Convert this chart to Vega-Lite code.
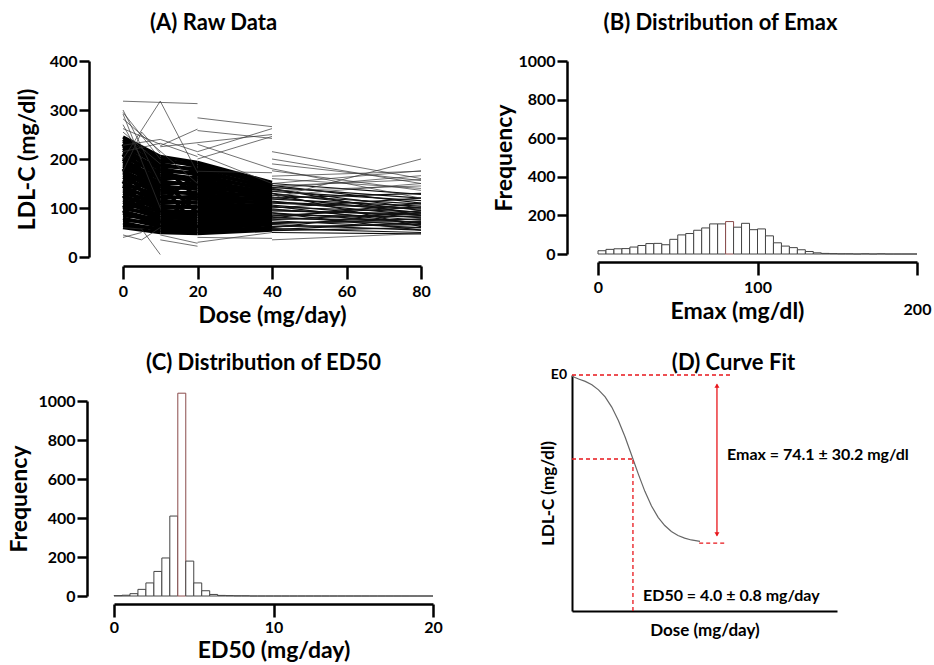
{
  "$schema": "https://vega.github.io/schema/vega-lite/v6.json",
  "background": "white",
  "padding": {"left": 8, "top": 12, "right": 2, "bottom": 2},
  "columns": 2,
  "align": "each",
  "bounds": "flush",
  "spacing": {"row": 118, "column": 139},
  "datasets": {
    "a_dense": [
      {"x":0,"x2":10,"y":245,"y2":205},{"x":0,"x2":10,"y":240,"y2":192},{"x":0,"x2":10,"y":236,"y2":200},{"x":0,"x2":10,"y":231,"y2":185},{"x":0,"x2":10,"y":226,"y2":190},{"x":0,"x2":10,"y":222,"y2":178},{"x":0,"x2":10,"y":218,"y2":170},{"x":0,"x2":10,"y":213,"y2":182},{"x":0,"x2":10,"y":208,"y2":165},{"x":0,"x2":10,"y":204,"y2":172},{"x":0,"x2":10,"y":199,"y2":158},{"x":0,"x2":10,"y":195,"y2":150},{"x":0,"x2":10,"y":190,"y2":162},{"x":0,"x2":10,"y":186,"y2":146},{"x":0,"x2":10,"y":181,"y2":153},{"x":0,"x2":10,"y":176,"y2":140},{"x":0,"x2":10,"y":172,"y2":132},{"x":0,"x2":10,"y":167,"y2":145},{"x":0,"x2":10,"y":163,"y2":128},{"x":0,"x2":10,"y":158,"y2":135},{"x":0,"x2":10,"y":153,"y2":120},{"x":0,"x2":10,"y":149,"y2":126},{"x":0,"x2":10,"y":144,"y2":112},{"x":0,"x2":10,"y":139,"y2":118},{"x":0,"x2":10,"y":135,"y2":105},{"x":0,"x2":10,"y":130,"y2":110},{"x":0,"x2":10,"y":125,"y2":98},{"x":0,"x2":10,"y":121,"y2":104},{"x":0,"x2":10,"y":116,"y2":92},{"x":0,"x2":10,"y":112,"y2":85},{"x":0,"x2":10,"y":107,"y2":95},{"x":0,"x2":10,"y":102,"y2":80},{"x":0,"x2":10,"y":98,"y2":88},{"x":0,"x2":10,"y":93,"y2":74},{"x":0,"x2":10,"y":89,"y2":68},{"x":0,"x2":10,"y":84,"y2":78},{"x":0,"x2":10,"y":79,"y2":62},{"x":0,"x2":10,"y":75,"y2":70},{"x":0,"x2":10,"y":70,"y2":55},{"x":0,"x2":10,"y":65,"y2":58},{"x":0,"x2":10,"y":60,"y2":50},{"x":0,"x2":10,"y":230,"y2":120},{"x":0,"x2":10,"y":120,"y2":180},{"x":0,"x2":10,"y":180,"y2":90},{"x":0,"x2":10,"y":100,"y2":150},{"x":0,"x2":10,"y":210,"y2":110},{"x":0,"x2":10,"y":90,"y2":140},{"x":0,"x2":10,"y":155,"y2":60},{"x":0,"x2":10,"y":200,"y2":135},{"x":0,"x2":10,"y":140,"y2":200},
      {"x":10,"x2":20,"y":205,"y2":193},{"x":10,"x2":20,"y":200,"y2":185},{"x":10,"x2":20,"y":195,"y2":190},{"x":10,"x2":20,"y":190,"y2":176},{"x":10,"x2":20,"y":185,"y2":180},{"x":10,"x2":20,"y":180,"y2":168},{"x":10,"x2":20,"y":175,"y2":172},{"x":10,"x2":20,"y":170,"y2":160},{"x":10,"x2":20,"y":165,"y2":155},{"x":10,"x2":20,"y":160,"y2":162},{"x":10,"x2":20,"y":155,"y2":146},{"x":10,"x2":20,"y":150,"y2":150},{"x":10,"x2":20,"y":145,"y2":138},{"x":10,"x2":20,"y":140,"y2":142},{"x":10,"x2":20,"y":135,"y2":128},{"x":10,"x2":20,"y":130,"y2":132},{"x":10,"x2":20,"y":125,"y2":118},{"x":10,"x2":20,"y":120,"y2":124},{"x":10,"x2":20,"y":115,"y2":110},{"x":10,"x2":20,"y":110,"y2":112},{"x":10,"x2":20,"y":105,"y2":100},{"x":10,"x2":20,"y":100,"y2":104},{"x":10,"x2":20,"y":95,"y2":92},{"x":10,"x2":20,"y":90,"y2":88},{"x":10,"x2":20,"y":85,"y2":84},{"x":10,"x2":20,"y":80,"y2":78},{"x":10,"x2":20,"y":75,"y2":72},{"x":10,"x2":20,"y":70,"y2":68},{"x":10,"x2":20,"y":65,"y2":62},{"x":10,"x2":20,"y":60,"y2":57},{"x":10,"x2":20,"y":55,"y2":52},{"x":10,"x2":20,"y":50,"y2":48},{"x":10,"x2":20,"y":190,"y2":120},{"x":10,"x2":20,"y":110,"y2":170},{"x":10,"x2":20,"y":160,"y2":90},{"x":10,"x2":20,"y":70,"y2":130},{"x":10,"x2":20,"y":150,"y2":60},
      {"x":20,"x2":40,"y":193,"y2":152},{"x":20,"x2":40,"y":188,"y2":145},{"x":20,"x2":40,"y":183,"y2":148},{"x":20,"x2":40,"y":178,"y2":140},{"x":20,"x2":40,"y":173,"y2":143},{"x":20,"x2":40,"y":168,"y2":135},{"x":20,"x2":40,"y":163,"y2":138},{"x":20,"x2":40,"y":158,"y2":130},{"x":20,"x2":40,"y":153,"y2":132},{"x":20,"x2":40,"y":148,"y2":125},{"x":20,"x2":40,"y":143,"y2":127},{"x":20,"x2":40,"y":138,"y2":120},{"x":20,"x2":40,"y":133,"y2":122},{"x":20,"x2":40,"y":128,"y2":115},{"x":20,"x2":40,"y":123,"y2":117},{"x":20,"x2":40,"y":118,"y2":110},{"x":20,"x2":40,"y":113,"y2":112},{"x":20,"x2":40,"y":108,"y2":105},{"x":20,"x2":40,"y":103,"y2":106},{"x":20,"x2":40,"y":98,"y2":100},{"x":20,"x2":40,"y":93,"y2":96},{"x":20,"x2":40,"y":88,"y2":92},{"x":20,"x2":40,"y":83,"y2":88},{"x":20,"x2":40,"y":78,"y2":84},{"x":20,"x2":40,"y":73,"y2":80},{"x":20,"x2":40,"y":68,"y2":75},{"x":20,"x2":40,"y":63,"y2":70},{"x":20,"x2":40,"y":58,"y2":66},{"x":20,"x2":40,"y":53,"y2":60},{"x":20,"x2":40,"y":48,"y2":55},{"x":20,"x2":40,"y":180,"y2":100},{"x":20,"x2":40,"y":100,"y2":150},{"x":20,"x2":40,"y":150,"y2":80},{"x":20,"x2":40,"y":60,"y2":110},{"x":20,"x2":40,"y":120,"y2":60},{"x":20,"x2":40,"y":170,"y2":65}
    ],
    "a_mid": [
      {"x":40,"x2":80,"y":150,"y2":128},{"x":40,"x2":80,"y":146,"y2":110},{"x":40,"x2":80,"y":142,"y2":120},{"x":40,"x2":80,"y":138,"y2":100},{"x":40,"x2":80,"y":134,"y2":115},{"x":40,"x2":80,"y":130,"y2":95},{"x":40,"x2":80,"y":126,"y2":108},{"x":40,"x2":80,"y":122,"y2":90},{"x":40,"x2":80,"y":118,"y2":104},{"x":40,"x2":80,"y":114,"y2":85},{"x":40,"x2":80,"y":110,"y2":98},{"x":40,"x2":80,"y":106,"y2":80},{"x":40,"x2":80,"y":102,"y2":92},{"x":40,"x2":80,"y":98,"y2":75},{"x":40,"x2":80,"y":94,"y2":88},{"x":40,"x2":80,"y":90,"y2":70},{"x":40,"x2":80,"y":86,"y2":82},{"x":40,"x2":80,"y":82,"y2":65},{"x":40,"x2":80,"y":78,"y2":76},{"x":40,"x2":80,"y":74,"y2":60},{"x":40,"x2":80,"y":70,"y2":72},{"x":40,"x2":80,"y":66,"y2":55},{"x":40,"x2":80,"y":62,"y2":66},{"x":40,"x2":80,"y":58,"y2":50},{"x":40,"x2":80,"y":54,"y2":60},{"x":40,"x2":80,"y":50,"y2":47},{"x":40,"x2":80,"y":120,"y2":130},{"x":40,"x2":80,"y":100,"y2":120},{"x":40,"x2":80,"y":80,"y2":110},{"x":40,"x2":80,"y":140,"y2":85},{"x":40,"x2":80,"y":60,"y2":95},{"x":40,"x2":80,"y":90,"y2":55},{"x":40,"x2":80,"y":130,"y2":62},{"x":40,"x2":80,"y":112,"y2":100},{"x":40,"x2":80,"y":96,"y2":85},{"x":40,"x2":80,"y":76,"y2":90},{"x":40,"x2":80,"y":68,"y2":78},{"x":40,"x2":80,"y":104,"y2":68},{"x":40,"x2":80,"y":84,"y2":102},{"x":40,"x2":80,"y":56,"y2":70}
    ],
    "a_thin": [
      {"x":0,"x2":20,"y":318,"y2":313},{"x":0,"x2":10,"y":300,"y2":150},{"x":0,"x2":10,"y":292,"y2":100},{"x":0,"x2":20,"y":282,"y2":150},{"x":0,"x2":10,"y":200,"y2":318},{"x":10,"x2":20,"y":318,"y2":172},{"x":0,"x2":5,"y":175,"y2":255},{"x":5,"x2":10,"y":255,"y2":212},{"x":0,"x2":10,"y":228,"y2":240},{"x":10,"x2":20,"y":227,"y2":261},{"x":20,"x2":40,"y":284,"y2":266},{"x":20,"x2":40,"y":258,"y2":242},{"x":20,"x2":40,"y":215,"y2":262},{"x":10,"x2":40,"y":225,"y2":250},{"x":20,"x2":40,"y":200,"y2":246},{"x":40,"x2":80,"y":215,"y2":160},{"x":40,"x2":80,"y":200,"y2":150},{"x":40,"x2":80,"y":176,"y2":136},{"x":40,"x2":80,"y":120,"y2":200},{"x":40,"x2":80,"y":150,"y2":176},{"x":40,"x2":80,"y":140,"y2":166},{"x":40,"x2":80,"y":190,"y2":156},{"x":0,"x2":5,"y":40,"y2":50},{"x":0,"x2":5,"y":60,"y2":57},{"x":5,"x2":10,"y":57,"y2":5},{"x":10,"x2":20,"y":35,"y2":22},{"x":20,"x2":40,"y":30,"y2":50},{"x":40,"x2":80,"y":35,"y2":48},{"x":0,"x2":10,"y":295,"y2":200},{"x":0,"x2":5,"y":270,"y2":200},{"x":0,"x2":10,"y":255,"y2":190},{"x":0,"x2":5,"y":45,"y2":35},{"x":5,"x2":10,"y":35,"y2":60},{"x":10,"x2":20,"y":45,"y2":28},{"x":20,"x2":40,"y":40,"y2":38},{"x":0,"x2":10,"y":262,"y2":230},{"x":10,"x2":20,"y":240,"y2":215},{"x":20,"x2":40,"y":230,"y2":180},{"x":40,"x2":80,"y":180,"y2":120},{"x":40,"x2":80,"y":165,"y2":175},{"x":40,"x2":80,"y":160,"y2":140},{"x":40,"x2":80,"y":145,"y2":158},{"x":20,"x2":40,"y":175,"y2":172},{"x":0,"x2":10,"y":215,"y2":232},{"x":10,"x2":20,"y":232,"y2":205},{"x":20,"x2":40,"y":210,"y2":150},{"x":40,"x2":80,"y":125,"y2":150},{"x":40,"x2":80,"y":135,"y2":145}
    ],
    "b_hist": [
      {"b0":0,"b1":5,"n":17},{"b0":5,"b1":10,"n":24},{"b0":10,"b1":15,"n":27},{"b0":15,"b1":20,"n":28},{"b0":20,"b1":25,"n":36},{"b0":25,"b1":30,"n":44},{"b0":30,"b1":35,"n":54},{"b0":35,"b1":40,"n":55},{"b0":40,"b1":45,"n":48},{"b0":45,"b1":50,"n":76},{"b0":50,"b1":55,"n":99},{"b0":55,"b1":60,"n":106},{"b0":60,"b1":65,"n":123},{"b0":65,"b1":70,"n":135},{"b0":70,"b1":75,"n":156},{"b0":75,"b1":80,"n":156},{"b0":80,"b1":85,"n":168},{"b0":85,"b1":90,"n":139},{"b0":90,"b1":95,"n":159},{"b0":95,"b1":100,"n":126},{"b0":100,"b1":105,"n":130},{"b0":105,"b1":110,"n":94},{"b0":110,"b1":115,"n":58},{"b0":115,"b1":120,"n":41},{"b0":120,"b1":125,"n":33},{"b0":125,"b1":130,"n":22},{"b0":130,"b1":135,"n":13},{"b0":135,"b1":140,"n":6},{"b0":140,"b1":145,"n":3},{"b0":145,"b1":150,"n":2},{"b0":150,"b1":155,"n":1},{"b0":155,"b1":160,"n":1},{"b0":160,"b1":165,"n":0},{"b0":165,"b1":170,"n":1},{"b0":170,"b1":175,"n":0},{"b0":175,"b1":180,"n":1},{"b0":180,"b1":185,"n":0},{"b0":185,"b1":190,"n":0},{"b0":190,"b1":195,"n":0},{"b0":195,"b1":200,"n":0}
    ],
    "c_hist": [
      {"b0":0,"b1":0.5,"n":2},{"b0":0.5,"b1":1,"n":4},{"b0":1,"b1":1.5,"n":12},{"b0":1.5,"b1":2,"n":34},{"b0":2,"b1":2.5,"n":67},{"b0":2.5,"b1":3,"n":126},{"b0":3,"b1":3.5,"n":195},{"b0":3.5,"b1":4,"n":410},{"b0":4,"b1":4.5,"n":1040},{"b0":4.5,"b1":5,"n":179},{"b0":5,"b1":5.5,"n":67},{"b0":5.5,"b1":6,"n":27},{"b0":6,"b1":6.5,"n":8},{"b0":6.5,"b1":7,"n":3},{"b0":7,"b1":7.5,"n":2},{"b0":7.5,"b1":8,"n":1},{"b0":8,"b1":8.5,"n":1},{"b0":8.5,"b1":9,"n":0},{"b0":9,"b1":9.5,"n":0},{"b0":9.5,"b1":10,"n":0},{"b0":10,"b1":10.5,"n":0},{"b0":10.5,"b1":11,"n":0},{"b0":11,"b1":11.5,"n":0},{"b0":11.5,"b1":12,"n":0},{"b0":12,"b1":12.5,"n":0},{"b0":12.5,"b1":13,"n":0},{"b0":13,"b1":13.5,"n":0},{"b0":13.5,"b1":14,"n":0},{"b0":14,"b1":14.5,"n":0},{"b0":14.5,"b1":15,"n":0},{"b0":15,"b1":15.5,"n":0},{"b0":15.5,"b1":16,"n":0},{"b0":16,"b1":16.5,"n":0},{"b0":16.5,"b1":17,"n":0},{"b0":17,"b1":17.5,"n":0},{"b0":17.5,"b1":18,"n":0},{"b0":18,"b1":18.5,"n":0},{"b0":18.5,"b1":19,"n":0},{"b0":19,"b1":19.5,"n":0},{"b0":19.5,"b1":20,"n":0}
    ],
    "d_curve": [
      {"x":0,"y":99.5},{"x":0.25,"y":98.3},{"x":0.5,"y":97.3},{"x":0.75,"y":95.9},{"x":1,"y":93.7},{"x":1.25,"y":90.7},{"x":1.5,"y":86.4},{"x":1.75,"y":80.7},{"x":2,"y":73.8},{"x":2.25,"y":66},{"x":2.5,"y":58.1},{"x":2.75,"y":50.7},{"x":3,"y":44.5},{"x":3.25,"y":39.7},{"x":3.5,"y":36.2},{"x":3.75,"y":33.7},{"x":4,"y":32},{"x":4.25,"y":30.9},{"x":4.5,"y":30.1},{"x":4.83,"y":29.5}
    ],
    "d_dash": [
      {"x":0,"x2":6.04,"y":100,"y2":100},{"x":0,"x2":2.3,"y":64.4,"y2":64.4},{"x":2.3,"x2":2.3,"y":0,"y2":64.4},{"x":4.8,"x2":5.85,"y":28.8,"y2":28.8}
    ],
    "d_arrow": [{"x":5.47,"x2":5.47,"y":96,"y2":32}],
    "d_head_up": [{"x":5.47,"y":95.5}],
    "d_head_down": [{"x":5.47,"y":32.5}],
    "d_text": [
      {"x":5.85,"y":66.1,"label":"Emax = 74.1 ± 30.2 mg/dl"},
      {"x":2.68,"y":6.4,"label":"ED50 = 4.0 ± 0.8 mg/day"}
    ],
    "d_e0": [{"x":0,"y":100,"label":"E0"}]
  },
  "concat": [
    {
      "width": 307, "height": 196,
      "title": {"text": "(A) Raw Data", "dx": -54, "frame": "group", "offset": 18},
      "encoding": {
        "x": {"field": "x", "type": "quantitative", "scale": {"domain": [0, 80], "range": [9, 307], "nice": false},
              "axis": {"values": [0, 20, 40, 60, 80], "offset": 9, "tickSize": 13, "labelPadding": 4, "titlePadding": 5, "title": "Dose (mg/day)"}},
        "x2": {"field": "x2"},
        "y": {"field": "y", "type": "quantitative", "scale": {"domain": [0, 400], "nice": false},
              "axis": {"values": [0, 100, 200, 300, 400], "offset": 25, "tickSize": 10, "titlePadding": 10, "title": "LDL-C (mg/dl)"}},
        "y2": {"field": "y2"}
      },
      "layer": [
        {"data": {"name": "a_dense"}, "mark": {"type": "rule", "color": "#000", "strokeWidth": 3.5}},
        {"data": {"name": "a_mid"}, "mark": {"type": "rule", "color": "#111", "strokeWidth": 1.2}},
        {"data": {"name": "a_thin"}, "mark": {"type": "rule", "color": "#333", "strokeWidth": 0.7}}
      ]
    },
    {
      "width": 345, "height": 196,
      "title": {"text": "(B) Distribution of Emax", "dx": -24, "frame": "group", "offset": 18},
      "data": {"name": "b_hist"},
      "mark": {"type": "rect", "fill": "white", "strokeWidth": 1},
      "encoding": {
        "x": {"field": "b0", "type": "quantitative", "scale": {"domain": [0, 200], "range": [26, 345], "nice": false},
              "axis": {"values": [0, 100, 200], "offset": 5, "tickSize": 13, "title": "Emax (mg/dl)", "titlePadding": -17, "titleX": 165,
                       "labelPadding": {"condition": {"test": "datum.value == 200", "value": 26}, "value": 4}}},
        "x2": {"field": "b1"},
        "y": {"field": "n", "type": "quantitative", "scale": {"domain": [0, 1000], "range": [193, 0], "nice": false},
              "axis": {"values": [0, 200, 400, 600, 800, 1000], "format": "d", "offset": 5, "tickSize": 10, "titlePadding": 1, "title": "Frequency"}},
        "y2": {"datum": 0},
        "stroke": {"condition": {"test": "datum.b0 == 80", "value": "#8a4b4b"}, "value": "#444"}
      }
    },
    {
      "width": 319, "height": 221,
      "title": {"text": "(C) Distribution of ED50", "dx": -10, "frame": "group", "offset": 0},
      "data": {"name": "c_hist"},
      "mark": {"type": "rect", "fill": "white", "strokeWidth": 1},
      "encoding": {
        "x": {"field": "b0", "type": "quantitative", "scale": {"domain": [0, 20], "nice": false},
              "axis": {"values": [0, 10, 20], "offset": 8, "tickSize": 13, "labelPadding": 2, "titlePadding": 4, "title": "ED50 (mg/day)"}},
        "x2": {"field": "b1"},
        "y": {"field": "n", "type": "quantitative", "scale": {"domain": [0, 1000], "range": [221, 26], "nice": false},
              "axis": {"values": [0, 200, 400, 600, 800, 1000], "format": "d", "offset": 27, "tickSize": 10, "titlePadding": 6, "title": "Frequency"}},
        "y2": {"datum": 0},
        "stroke": {"condition": {"test": "datum.n > 1000", "value": "#8a4b4b"}, "value": "#444"}
      }
    },
    {
      "width": 265, "height": 236,
      "title": {"text": "(D) Curve Fit", "dx": 29, "frame": "group", "offset": -7},
      "encoding": {
        "x": {"field": "x", "type": "quantitative", "scale": {"domain": [0, 10], "nice": false},
              "axis": {"title": "Dose (mg/day)", "labels": false, "ticks": false, "domainWidth": 2, "titleFontSize": 17, "titlePadding": 11}},
        "y": {"field": "y", "type": "quantitative", "scale": {"domain": [0, 100], "nice": false},
              "axis": {"title": "LDL-C (mg/dl)", "labels": false, "ticks": false, "domainWidth": 2, "titleFontSize": 17, "titlePadding": 15}}
      },
      "layer": [
        {"data": {"name": "d_curve"}, "mark": {"type": "line", "color": "#666", "strokeWidth": 1.2}},
        {"data": {"name": "d_dash"}, "mark": {"type": "rule", "color": "#e8161b", "strokeWidth": 1.3, "strokeDash": [4, 3]},
         "encoding": {"x2": {"field": "x2"}, "y2": {"field": "y2"}}},
        {"data": {"name": "d_arrow"}, "mark": {"type": "rule", "color": "#e8161b", "strokeWidth": 1.3},
         "encoding": {"y2": {"field": "y2"}}},
        {"data": {"name": "d_head_up"}, "mark": {"type": "point", "shape": "triangle-up", "filled": true, "color": "#e8161b", "size": 25, "opacity": 1}},
        {"data": {"name": "d_head_down"}, "mark": {"type": "point", "shape": "triangle-down", "filled": true, "color": "#e8161b", "size": 25, "opacity": 1}},
        {"data": {"name": "d_text"}, "mark": {"type": "text", "align": "left", "baseline": "middle", "font": "Lato", "fontSize": 16, "fontWeight": "bold", "color": "#000"},
         "encoding": {"text": {"field": "label"}}},
        {"data": {"name": "d_e0"}, "mark": {"type": "text", "align": "right", "baseline": "middle", "dx": -5, "font": "Lato", "fontSize": 14, "fontWeight": "bold", "color": "#000"},
         "encoding": {"text": {"field": "label"}}}
      ]
    }
  ],
  "config": {
    "font": "Lato",
    "view": {"stroke": null},
    "axis": {"grid": false, "domainColor": "#000", "domainWidth": 2.5, "tickColor": "#000", "tickWidth": 2.5,
             "labelFont": "Lato", "labelFontSize": 16, "labelFontWeight": "bold", "labelColor": "#000", "labelPadding": 2,
             "labelFlush": false, "labelOverlap": false,
             "titleFont": "Lato", "titleFontSize": 23, "titleFontWeight": "bold", "titleColor": "#000", "titlePadding": 8},
    "title": {"font": "Lato", "fontSize": 22, "fontWeight": "bold", "color": "#000", "anchor": "middle"}
  }
}
